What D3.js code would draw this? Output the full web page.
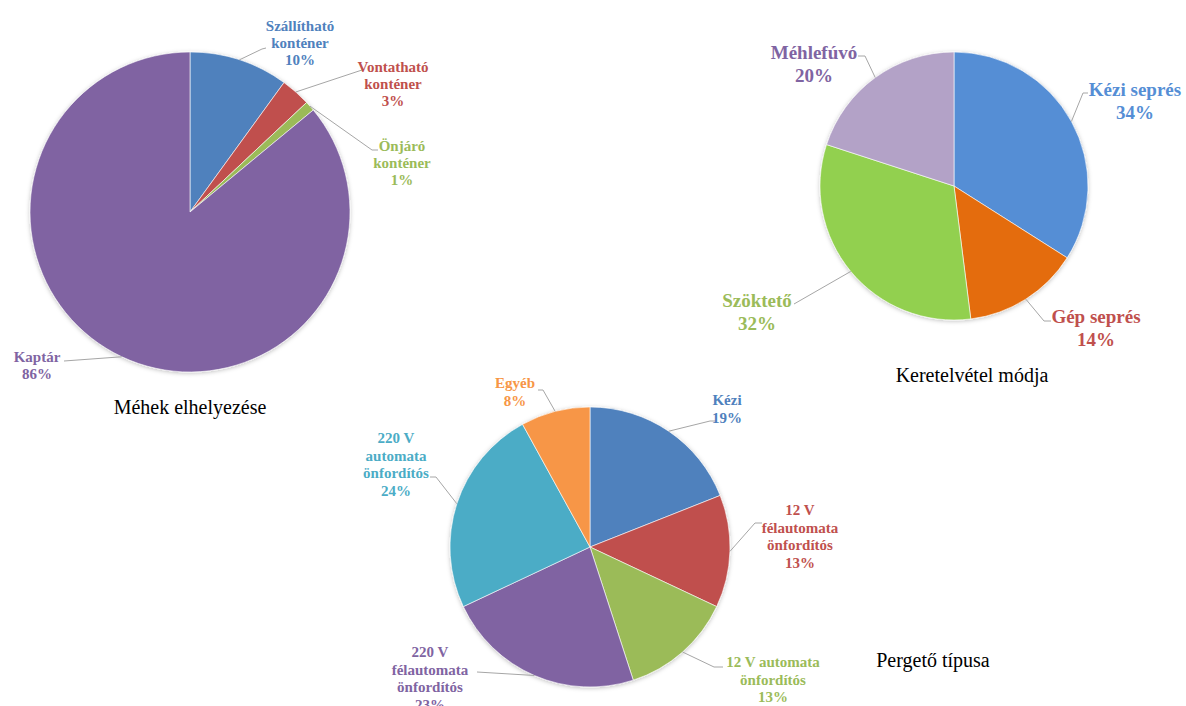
<!DOCTYPE html>
<html>
<head>
<meta charset="utf-8">
<script src="https://cdn.jsdelivr.net/npm/d3@7"></script>
<style>
    body { margin: 0; background: #fff; }
    svg { display: block; }
    text { font-family: "Liberation Serif", "Times New Roman", serif; }
</style>
</head>
<body>
<div id="chart"></div>
<script>
// Chart 1: Méhek elhelyezése
const placeCats = [["Szállítható", "konténer"], ["Vontatható", "konténer"], ["Önjáró", "konténer"], ["Kaptár"]];
const placeValues = [10, 3, 1, 86];
const placeColors = ["#4f81bd", "#c0504d", "#9bbb59", "#8064a2"];

// Chart 2: Keretelvétel módja
const frameCats = [["Kézi seprés"], ["Gép seprés"], ["Szöktető"], ["Méhlefúvó"]];
const frameValues = [34, 14, 32, 20];
const frameColors = ["#558ed5", "#e46c0a", "#92d050", "#b3a2c7"];
const frameTextColors = ["#558ed5", "#c0504d", "#9bbb59", "#8064a2"];

// Chart 3: Pergető típusa
const spinCats = [["Kézi"], ["12 V", "félautomata", "önfordítós"], ["12 V automata", "önfordítós"],
    ["220 V", "félautomata", "önfordítós"], ["220 V", "automata", "önfordítós"], ["Egyéb"]];
const spinValues = [19, 13, 13, 23, 24, 8];
const spinColors = ["#4f81bd", "#c0504d", "#9bbb59", "#8064a2", "#4bacc6", "#f79646"];

const svg = d3.select("#chart")
    .append("svg")
    .attr("width", 1186)
    .attr("height", 706);

// soft shadow like the office charts
const defs = svg.append("defs");
defs.append("filter")
    .attr("id", "shadow")
    .attr("x", "-10%").attr("y", "-10%")
    .attr("width", "120%").attr("height", "120%")
    .append("feDropShadow")
    .attr("dx", 0).attr("dy", 1)
    .attr("stdDeviation", 2)
    .attr("flood-color", "#000")
    .attr("flood-opacity", 0.25);

function drawPie(cfg) {
    const g = svg.append("g");
    const pie = d3.pie().sort(null).value(d => d);
    const arcs = pie(cfg.values);
    const arc = d3.arc().innerRadius(0).outerRadius(cfg.r);

    const pieG = g.append("g")
        .attr("transform", `translate(${cfg.cx},${cfg.cy})`)
        .attr("filter", "url(#shadow)");

    pieG.selectAll("path")
        .data(arcs)
        .enter().append("path")
        .attr("d", arc)
        .attr("fill", (d, i) => cfg.colors[i])
        .attr("stroke", "#fff")
        .attr("stroke-width", 0.6);

    // leader lines: label end -> slice edge at mid angle
    const line = d3.line();
    g.selectAll("path.leader")
        .data(arcs)
        .enter().append("path")
        .attr("class", "leader")
        .attr("d", (d, i) => {
            const mid = (d.startAngle + d.endAngle) / 2;
            const edge = [cfg.cx + cfg.r * Math.sin(mid), cfg.cy - cfg.r * Math.cos(mid)];
            return line(cfg.labels[i].pts.concat([edge]));
        })
        .attr("fill", "none")
        .attr("stroke", "#a6a6a6")
        .attr("stroke-width", 1);

    // labels
    const lab = g.selectAll("text.lab")
        .data(arcs)
        .enter().append("text")
        .attr("class", "lab")
        .attr("text-anchor", "middle")
        .attr("font-weight", "bold")
        .attr("font-size", cfg.fontSize + "px")
        .attr("fill", (d, i) => (cfg.textColors || cfg.colors)[i]);

    lab.each(function(d, i) {
        const t = d3.select(this);
        const L = cfg.labels[i];
        const lines = cfg.cats[i].concat([d3.format(".0f")(d.value) + "%"]);
        lines.forEach((s, k) => {
            t.append("tspan")
                .attr("x", L.x)
                .attr("y", L.y + k * cfg.lineH)
                .text(s);
        });
    });

    g.append("text")
        .attr("x", cfg.titleX)
        .attr("y", cfg.titleY)
        .attr("text-anchor", "middle")
        .attr("font-size", "20px")
        .attr("fill", "#000")
        .text(cfg.title);
}

drawPie({
    cx: 190, cy: 212, r: 160,
    values: placeValues, cats: placeCats, colors: placeColors,
    fontSize: 15, lineH: 17,
    labels: [
        { x: 300, y: 31, pts: [[266, 48], [262, 49]] },
        { x: 393, y: 72, pts: [[362, 70]] },
        { x: 402, y: 151, pts: [[378, 150], [372, 150]] },
        { x: 37, y: 362, pts: [[64, 361]] }
    ],
    title: "Méhek elhelyezése", titleX: 190, titleY: 414
});

drawPie({
    cx: 954, cy: 186, r: 134,
    values: frameValues, cats: frameCats, colors: frameColors, textColors: frameTextColors,
    fontSize: 19, lineH: 23,
    labels: [
        { x: 1135, y: 96, pts: [[1088, 93], [1083, 93]] },
        { x: 1096, y: 323, pts: [[1051, 321], [1044, 321]] },
        { x: 757, y: 307, pts: [[794, 304]] },
        { x: 814, y: 59, pts: [[858, 56], [865, 56]] }
    ],
    title: "Keretelvétel módja", titleX: 972, titleY: 382
});

drawPie({
    cx: 590, cy: 547, r: 140,
    values: spinValues, cats: spinCats, colors: spinColors,
    fontSize: 15, lineH: 17.5,
    labels: [
        { x: 727, y: 405, pts: [[716, 421], [710, 421]] },
        { x: 800, y: 515, pts: [[762, 523], [755, 523]] },
        { x: 773, y: 667, pts: [[723, 667], [714, 667]] },
        { x: 430, y: 657, pts: [[477, 672]] },
        { x: 396, y: 443, pts: [[430, 477], [436, 477]] },
        { x: 515, y: 388, pts: [[538, 390], [543, 390]] }
    ],
    title: "Pergető típusa", titleX: 933, titleY: 667
});
</script>
</body>
</html>
